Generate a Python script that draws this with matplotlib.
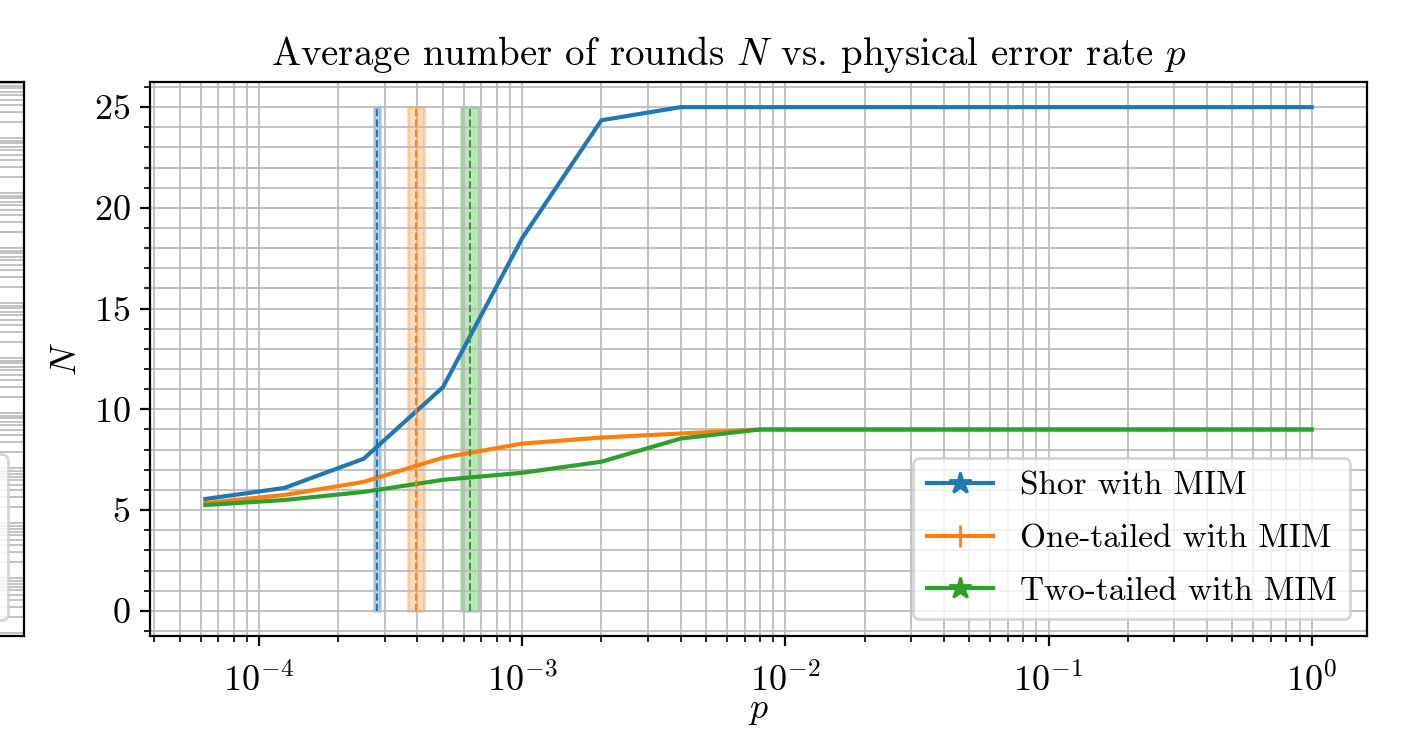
import matplotlib
matplotlib.use('Agg')
import matplotlib.pyplot as plt
from matplotlib.lines import Line2D
from matplotlib.ticker import AutoMinorLocator, LogLocator

plt.rcParams['font.family'] = 'serif'
plt.rcParams['font.serif'] = ['cmr10']
plt.rcParams['mathtext.fontset'] = 'cm'
plt.rcParams['axes.formatter.use_mathtext'] = True
plt.rcParams['axes.unicode_minus'] = False
plt.rcParams['grid.color'] = '#b8b8b8'
plt.rcParams['grid.linewidth'] = 0.6

# ---------------------------------------------------------
# data
# ---------------------------------------------------------
p = [6.25e-5, 1.25e-4, 2.5e-4, 5e-4, 1e-3, 2e-3, 4e-3, 8e-3,
     1.6e-2, 3.2e-2, 6.4e-2, 0.128, 0.256, 0.512, 1.0]

N_shor = [5.55, 6.1, 7.55, 11.1, 18.5, 24.35, 25, 25, 25, 25, 25, 25, 25, 25, 25]
N_one = [5.35, 5.75, 6.4, 7.6, 8.3, 8.6, 8.8, 9, 9, 9, 9, 9, 9, 9, 9]
N_two = [5.25, 5.5, 5.9, 6.5, 6.85, 7.4, 8.55, 9, 9, 9, 9, 9, 9, 9, 9]

labels = ['Shor with MIM', 'One-tailed with MIM', 'Two-tailed with MIM']
markers = ['*', '|', '*']
colors = ['C0', 'C1', 'C2']

# thresholds (centre, low, high)
thr_mid = [2.81e-4, 3.95e-4, 6.34e-4]
thr_lo = [2.74e-4, 3.69e-4, 5.86e-4]
thr_hi = [2.88e-4, 4.24e-4, 6.87e-4]

fig = plt.figure(figsize=(7.12, 3.65), dpi=200)

# cut-off neighbour panel on the left
ax0 = fig.add_axes([(24 - 1217) / 1424, 0.1288, 1217 / 1424, 0.7589])
ax0.set_yscale('log')
ax0.set_ylim(10**-10.05, 10**0.02)
ax0.yaxis.set_major_locator(LogLocator(numticks=100))
ax0.yaxis.set_minor_locator(LogLocator(subs=range(2, 10), numticks=100))
ax0.set_xticks([])
ax0.tick_params(axis='y', which='both', left=False, labelleft=False)
ax0.grid(True, which='both', axis='y')
ax0.legend([Line2D([], [], color=c) for c in colors], ['', '', ''],
           loc='lower right', fontsize=13, borderaxespad=0.45, labelspacing=0.55)

ax = fig.add_axes([150 / 1424, 0.1288, (1367 - 150) / 1424, 0.7589])

for ys, c in zip([N_shor, N_one, N_two], colors):
    ax.plot(p, ys, color=c)

for m, lo, hi, c in zip(thr_mid, thr_lo, thr_hi, colors):
    ax.fill_betweenx([0, 25], lo, hi, color=c, alpha=0.3)
    ax.vlines(m, 0, 25, colors=c, linestyles='--', lw=0.7)

ax.set_xscale('log')
ax.yaxis.set_minor_locator(AutoMinorLocator(5))
ax.set_yticks([0, 5, 10, 15, 20, 25])
ax.grid(True, which='both')
ax.tick_params(labelsize=13)
ax.tick_params(axis='x', which='major', pad=6)

ax.set_title(r'Average number of rounds $N$ vs. physical error rate $p$',
             fontsize=14, x=(729 - 150) / 1217)
ax.set_xlabel(r'$p$', fontsize=13)
ax.xaxis.set_label_coords(0.5, -0.108)
ax.set_ylabel(r'$N$', fontsize=13)

handles = [Line2D([], [], color=c, marker=mk, markersize=8) for c, mk in zip(colors, markers)]
ax.legend(handles, labels, loc='lower right', fontsize=12, borderaxespad=0.5,
          labelspacing=0.7)

fig.savefig('out.png', dpi=200)
